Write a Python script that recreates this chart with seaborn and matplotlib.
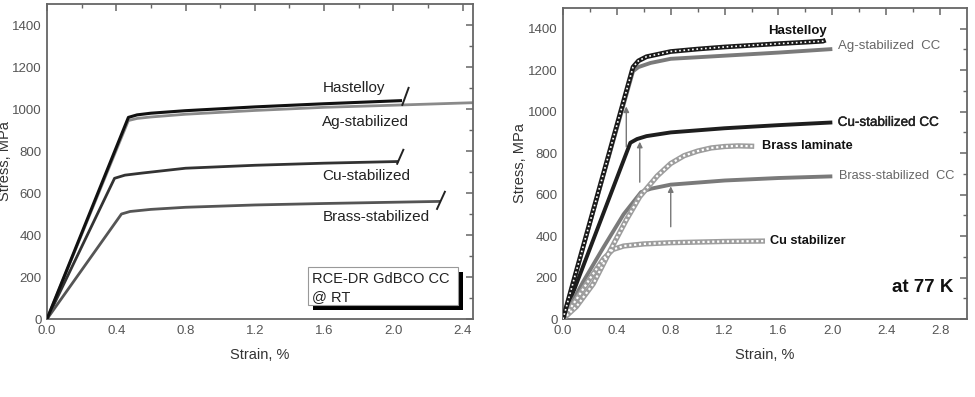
import numpy as np
import pandas as pd
import seaborn as sns
import matplotlib
matplotlib.use("Agg")
import matplotlib.pyplot as plt
from matplotlib.patches import Rectangle
import matplotlib.patheffects as pe

# ---------------- data: (a) room temperature ----------------
hast_rt_x = [0, 0.47, 0.52, 0.6, 0.8, 1.2, 1.6, 2.05]
hast_rt_y = [0, 960, 972, 980, 992, 1010, 1025, 1040]
ag_rt_x = [0, 0.47, 0.52, 0.6, 0.8, 1.2, 1.6, 2.0, 2.46]
ag_rt_y = [0, 945, 955, 962, 975, 993, 1008, 1018, 1030]
cu_rt_x = [0, 0.39, 0.45, 0.55, 0.8, 1.2, 1.6, 2.03]
cu_rt_y = [0, 670, 685, 695, 718, 732, 742, 750]
brass_rt_x = [0, 0.43, 0.48, 0.6, 0.8, 1.2, 1.6, 2.0, 2.27]
brass_rt_y = [0, 500, 512, 522, 532, 543, 550, 556, 560]
# fracture marks (start/end strain, start/end stress)
break_x = [[2.05, 2.09], [2.02, 2.06], [2.25, 2.30]]
break_y = [[1015, 1105], [735, 810], [520, 610]]
labels_rt = ["Hastelloy", "Ag-stabilized", "Cu-stabilized", "Brass-stabilized"]

# ---------------- data: (b) 77 K ----------------
hast_77_x = [0, 0.52, 0.56, 0.62, 0.8, 1.0, 1.2, 1.4, 1.6, 1.8, 1.93, 1.95]
hast_77_y = [0, 1215, 1245, 1265, 1290, 1302, 1312, 1320, 1328, 1335, 1340, 1345]
ag_77_x = [0, 0.52, 0.56, 0.65, 0.8, 1.2, 1.6, 2.0]
ag_77_y = [0, 1195, 1215, 1235, 1255, 1270, 1285, 1302]
cu_77_x = [0, 0.5, 0.55, 0.62, 0.8, 1.2, 1.6, 2.0]
cu_77_y = [0, 850, 868, 882, 900, 920, 935, 948]
brass_st_77_x = [0, 0.15, 0.3, 0.45, 0.58, 0.65, 0.8, 1.2, 1.6, 2.0]
brass_st_77_y = [0, 180, 345, 505, 612, 628, 648, 668, 680, 688]
brass_lam_77_x = [0, 0.1, 0.225, 0.35, 0.47, 0.57, 0.7, 0.8, 0.9, 1.0, 1.1, 1.2, 1.3, 1.42]
brass_lam_77_y = [0, 60, 170, 330, 478, 590, 690, 750, 788, 810, 825, 832, 835, 833]
cu_stab_77_x = [0, 0.1, 0.2, 0.3, 0.37, 0.45, 0.6, 0.8, 1.2, 1.5]
cu_stab_77_y = [0, 95, 195, 290, 335, 352, 362, 368, 374, 376]
arrow_x = [0.47, 0.57, 0.80]
arrow_y0 = [830, 660, 445]
arrow_y1 = [1025, 855, 640]

x_ticks_a = [0.0, 0.4, 0.8, 1.2, 1.6, 2.0, 2.4]
x_ticks_b = [0.0, 0.4, 0.8, 1.2, 1.6, 2.0, 2.4, 2.8]
y_ticks = [0, 200, 400, 600, 800, 1000, 1200, 1400]

sns.set_style("white")
plt.rcParams["font.family"] = ["Liberation Sans", "DejaVu Sans"]

fig = plt.figure(figsize=(9.75, 3.97), dpi=100)
axA = fig.add_axes([47 / 975, 1 - 319 / 397, 426 / 975, 315 / 397])
axB = fig.add_axes([563 / 975, 1 - 319 / 397, 404 / 975, 311 / 397])

GRAY = "#666666"


def line(ax, x, y, color, lw, ls="-", z=2):
    sns.lineplot(x=x, y=y, ax=ax, color=color, linewidth=lw, sort=False,
                 estimator=None, zorder=z, solid_capstyle="butt")
    ln = ax.lines[-1]
    if ls != "-":
        ln.set_linestyle(ls)
    return ln


def style_axes(ax, xticks, xmax, ylab_x):
    ax.set_xlim(0, xmax)
    ax.set_ylim(0, 1500)
    ax.set_xticks(xticks)
    ax.set_xticklabels([f"{t:.1f}" for t in xticks])
    ax.set_yticks(y_ticks)
    ax.set_xticks(np.arange(0.2, xmax, 0.4), minor=True)
    ax.set_yticks(np.arange(100, 1500, 200), minor=True)
    ax.tick_params(which="both", direction="in", top=True, right=True,
                   color=GRAY, labelcolor="#555555", labelsize=9.5)
    ax.tick_params(which="major", length=5, width=1.1, pad=4)
    ax.tick_params(which="minor", length=3, width=1.0)
    for s in ax.spines.values():
        s.set_color(GRAY)
        s.set_linewidth(1.3)
    ax.set_xlabel("Strain, %", fontsize=10.5, color="#333333")
    ax.set_ylabel("Stress, MPa", fontsize=10.5, color="#333333")
    ax.yaxis.set_label_coords(ylab_x, 0.5)
    ax.xaxis.set_label_coords(0.5, -0.092)
    ax.xaxis.label.set_verticalalignment("top")


# ---------------- panel (a) ----------------
line(axA, ag_rt_x, ag_rt_y, "#8a8a8a", 2.0)
line(axA, hast_rt_x, hast_rt_y, "#111111", 2.2, z=3)
line(axA, cu_rt_x, cu_rt_y, "#333333", 2.0)
line(axA, brass_rt_x, brass_rt_y, "#555555", 2.0)
for bx, by in zip(break_x, break_y):
    line(axA, bx, by, "#222222", 1.4)
style_axes(axA, x_ticks_a, 2.46, -0.082)

lab_y = [1102, 936, 683, 485]
for t, yy in zip(labels_rt, lab_y):
    axA.text(1.59, yy, t, fontsize=11, color="#222222", va="center", ha="left")

tr = axA.transAxes
axA.add_patch(Rectangle((0.624, 0.0286), 0.353, 0.12, transform=tr,
                        facecolor="black", edgecolor="none", zorder=4))
axA.add_patch(Rectangle((0.613, 0.0444), 0.352, 0.1206, transform=tr,
                        facecolor="white", edgecolor="#999999", lw=0.8, zorder=5))
axA.text(0.622, 0.128, "RCE-DR GdBCO CC", transform=tr, fontsize=10.5,
         color="#222222", va="center", ha="left", zorder=6)
axA.text(0.622, 0.07, "@ RT", transform=tr, fontsize=10.5,
         color="#222222", va="center", ha="left", zorder=6)

# ---------------- panel (b) ----------------
line(axB, ag_77_x, ag_77_y, "#7a7a7a", 2.8)
line(axB, cu_77_x, cu_77_y, "#1e1e1e", 2.8)
line(axB, brass_st_77_x, brass_st_77_y, "#7a7a7a", 2.8)
# open-circle chains: grey/black outline with white dotted core
line(axB, brass_lam_77_x, brass_lam_77_y, "#9d9d9d", 3.8, z=3)
line(axB, brass_lam_77_x, brass_lam_77_y, "white", 1.6, ls=(0, (1.0, 1.2)), z=3.1)
line(axB, cu_stab_77_x, cu_stab_77_y, "#9d9d9d", 3.8, z=3)
line(axB, cu_stab_77_x, cu_stab_77_y, "white", 1.6, ls=(0, (1.0, 1.2)), z=3.1)
line(axB, hast_77_x, hast_77_y, "#1a1a1a", 3.4, z=3.2)
line(axB, hast_77_x, hast_77_y, "white", 1.2, ls=(0, (1.0, 1.6)), z=3.3)

for ax_, y0, y1 in zip(arrow_x, arrow_y0, arrow_y1):
    axB.annotate("", xy=(ax_, y1), xytext=(ax_, y0),
                 arrowprops=dict(arrowstyle="-|>", color="#777777", lw=1.0,
                                 mutation_scale=8, shrinkA=0, shrinkB=0),
                 zorder=4)
style_axes(axB, x_ticks_b, 3.0, -0.088)

axB.text(1.52, 1387, "Hastelloy", fontsize=9.5, fontweight="bold",
         color="#111111", va="center", ha="left")
axB.text(2.04, 1315, "Ag-stabilized  CC", fontsize=9.5, color="#666666",
         va="center", ha="left")
axB.text(2.04, 946, "Cu-stabilized CC", fontsize=9.7, color="#222222",
         va="center", ha="left",
         path_effects=[pe.withStroke(linewidth=0.3, foreground="#222222")])
axB.text(1.48, 835, "Brass laminate", fontsize=9.2, fontweight="bold",
         color="#111111", va="center", ha="left")
axB.text(2.05, 690, "Brass-stabilized  CC", fontsize=9.2, color="#666666",
         va="center", ha="left")
axB.text(1.54, 378, "Cu stabilizer", fontsize=9.2, fontweight="bold",
         color="#111111", va="center", ha="left")
axB.text(2.90, 154, "at 77 K", fontsize=13.5, fontweight="bold",
         color="#111111", va="center", ha="right")

fig.savefig("out.png", dpi=100, facecolor="white")
